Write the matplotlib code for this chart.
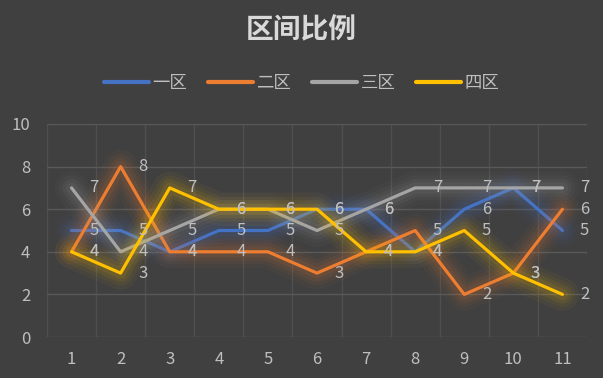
import matplotlib
matplotlib.use("Agg")
import matplotlib.pyplot as plt
import matplotlib.patheffects as pe

plt.rcParams['font.family'] = ['Noto Sans CJK SC', 'DejaVu Sans']

# datos
categorias = [1, 2, 3, 4, 5, 6, 7, 8, 9, 10, 11]
series_nombres = ["一区", "二区", "三区", "四区"]
zona1 = [5, 5, 4, 5, 5, 6, 6, 4, 6, 7, 5]
zona2 = [4, 8, 4, 4, 4, 3, 4, 5, 2, 3, 6]
zona3 = [7, 4, 5, 6, 6, 5, 6, 7, 7, 7, 7]
zona4 = [4, 3, 7, 6, 6, 6, 4, 4, 5, 3, 2]
colores = ["#4472c4", "#ed7d31", "#a5a5a5", "#ffc000"]

fondo = "#404040"
texto = "#d9d9d9"

fig = plt.figure(figsize=(6.03, 3.78), dpi=100, facecolor=fondo)
ax = fig.add_axes([47/603, 1 - 337/378, (587-47)/603, (337-124)/378])
ax.set_facecolor(fondo)

for nombre, valores, color in zip(series_nombres, [zona1, zona2, zona3, zona4], colores):
    # efecto de resplandor alrededor de la linea
    brillo = [pe.Stroke(linewidth=24, foreground=color, alpha=0.04),
              pe.Stroke(linewidth=18, foreground=color, alpha=0.05),
              pe.Stroke(linewidth=13, foreground=color, alpha=0.07),
              pe.Stroke(linewidth=8, foreground=color, alpha=0.09),
              pe.Normal()]
    ax.plot(categorias, valores, color=color, linewidth=2.3, label=nombre,
            solid_capstyle="round", path_effects=brillo, zorder=3)
    for x, y in zip(categorias, valores):
        ax.annotate(str(y), (x, y), xytext=(16, 0), textcoords="offset points",
                    ha="center", va="center", color="#bfbfbf", fontsize=12, zorder=4)

ax.set_xlim(0.5, 11.5)
ax.set_ylim(0, 10)
ax.set_yticks([0, 2, 4, 6, 8, 10])
ax.set_xticks(categorias)
ax.set_xticks([c + 0.5 for c in [0] + categorias], minor=True)
ax.grid(axis="y", which="major", color="#595959", linewidth=1)
ax.grid(axis="x", which="minor", color="#4f4f4f", linewidth=1)
ax.tick_params(which="both", length=0)
ax.tick_params(axis="y", pad=12, labelsize=12, labelcolor="#bfbfbf")
ax.tick_params(axis="x", pad=10, labelsize=12, labelcolor="#bfbfbf")
for lado in ax.spines.values():
    lado.set_visible(False)

fig.text(0.5, 1 - 30/378, "区间比例", ha="center", va="center",
         fontsize=20, fontweight="bold", color=texto)
leyenda = fig.legend(loc="center", bbox_to_anchor=(0.5, 1 - 83/378), ncol=4, frameon=False,
                     fontsize=12.5, labelcolor="#bfbfbf", handlelength=2.6,
                     columnspacing=1.2, handletextpad=0.2)
for linea in leyenda.get_lines():
    linea.set_linewidth(3)
    linea.set_path_effects([])

plt.savefig("out.png", dpi=100, facecolor=fondo)
plt.close()
